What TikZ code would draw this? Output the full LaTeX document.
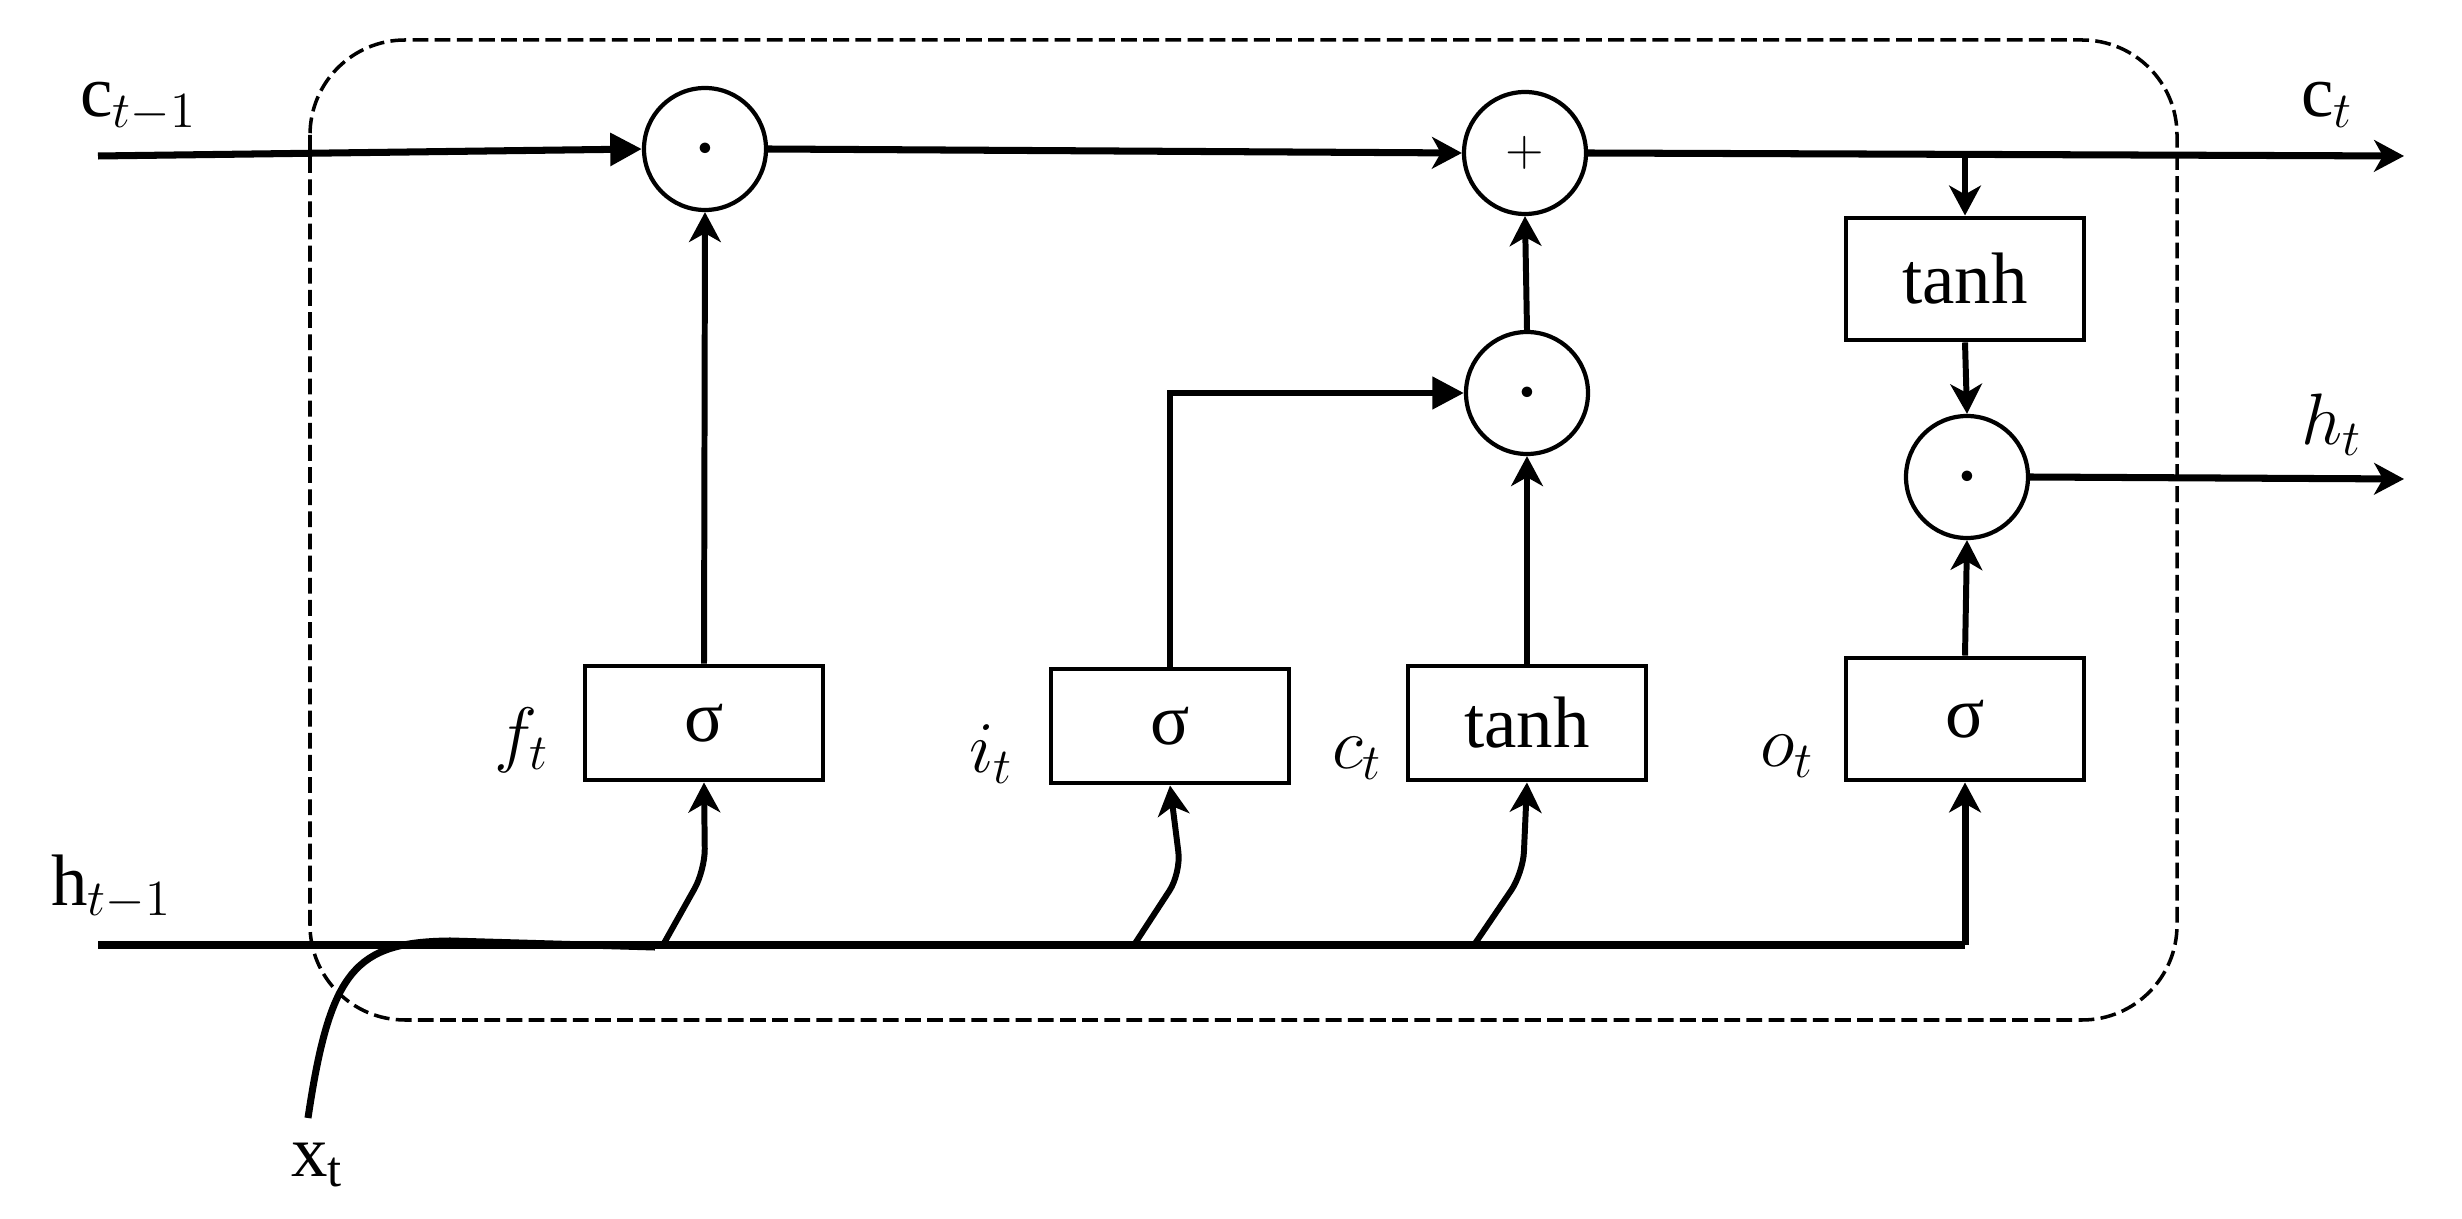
\documentclass[tikz,border=0pt]{standalone}
\usepackage{amsmath}
\usepackage{fontspec}
\setmainfont{Liberation Serif}
\usetikzlibrary{arrows.meta}

\begin{document}
\begin{tikzpicture}[font = \huge,
        gatebox/.style = {draw, line width = 1.4pt, minimum width = 2.38cm, minimum height = 1.14cm, inner sep = 0pt},
        opnode/.style = {draw, circle, line width = 1.2pt, minimum size = 1.22cm, inner sep = 0pt, font = \Large},
        mainline/.style = {line width = 2pt},
        fill arrow/.style = {mainline, -{Triangle[length = 9pt, width = 9pt]}},
        barb arrow/.style = {line width = 1.7pt, -{Stealth[length = 8.5pt, width = 9pt, inset = 2.5pt]}},
        cellbox/.style = {line width = 1pt, dash pattern = on 4.5pt off 1.8pt, rounded corners = 0.95cm}]
        \useasboundingbox (0,0) rectangle (24.62,-12.19);

        % cell border
        \draw[cellbox] (3.10,-0.40) rectangle (21.77,-10.20);

        % operations
        \node[opnode] (fmul) at (7.05,-1.49) {\scriptsize$\bullet$};
        \node[opnode] (cadd) at (15.25,-1.53) {$+$};
        \node[opnode] (imul) at (15.27,-3.93) {\scriptsize$\bullet$};
        \node[opnode] (omul) at (19.67,-4.77) {\scriptsize$\bullet$};

        % gates
        \node[gatebox] (fgate) at (7.04,-7.23) {σ};
        \node[gatebox] (igate) at (11.70,-7.26) {σ};
        \node[gatebox] (cgate) at (15.27,-7.23) {tanh};
        \node[gatebox, minimum height = 1.22cm] (ogate) at (19.65,-7.19) {σ};
        \node[gatebox, minimum height = 1.22cm] (tgate) at (19.65,-2.79) {tanh};

        \node[anchor = east] (flab) at (5.62,-7.40) {$f_t$};
        \node[anchor = east] (ilab) at (10.26,-7.54) {$i_t$};
        \node[anchor = east] (clab) at (13.95,-7.58) {$c_t$};
        \node[anchor = east] (olab) at (18.27,-7.56) {$o_t$};

        % ends
        \coordinate (cin) at (0.98,-1.56);
        \coordinate (hin) at (0.98,-9.45);
        \coordinate (xin) at (3.08,-11.18);
        \coordinate (cout) at (24.04,-1.56);
        \coordinate (hout) at (24.04,-4.79);
        \coordinate (tap) at (19.65,-1.55);
        \coordinate (hend) at (19.65,-9.45);
        \coordinate (fb) at (6.63,-9.45);
        \coordinate (ib) at (11.34,-9.45);
        \coordinate (cb) at (14.74,-9.45);

        \node[anchor = base west] (cinlab) at (0.68,-1.17) {c$_{t-1}$};
        \node[anchor = base west] (hinlab) at (0.39,-9.05) {h$_{t-1}$};
        \node[anchor = base west] (xinlab) at (2.79,-11.76) {x$_\text{t}$};
        \node[anchor = base west] (coutlab) at (22.89,-1.17) {c$_t$};
        \node[anchor = base west] (houtlab) at (22.89,-4.45) {$h_t$};

        % cell state
        \draw[fill arrow] (cin) -- (fmul.west);
        \draw[barb arrow, line width = 2pt] (fmul.east) -- (cadd.west);
        \draw[barb arrow, line width = 2pt] (cadd.east) -- (cout);
        \draw[barb arrow] (tap) -- (tgate.north);
        \draw[barb arrow] (tgate.south) -- (omul.north);
        \draw[barb arrow, line width = 2pt] (omul.east) -- (hout);

        % hidden state and input
        \draw[mainline] (hin) -- (hend);
        \draw[barb arrow, line width = 2pt] (hend) -- (ogate.south);
        \draw[mainline] (xin) .. controls (3.30,-9.70) and (3.55,-9.42) .. (4.50,-9.41) -- (6.55,-9.47);
        \draw[barb arrow, rounded corners = 6pt] (fb) -- (7.05,-8.70) -- (fgate.south);
        \draw[barb arrow, rounded corners = 6pt] (ib) -- (11.81,-8.73) -- (igate.south);
        \draw[barb arrow, rounded corners = 6pt] (cb) -- (15.23,-8.73) -- (cgate.south);

        % gates to operations
        \draw[barb arrow] (fgate.north) -- (fmul.south);
        \draw[fill arrow, line width = 1.7pt] (igate.north) |- (imul.west);
        \draw[barb arrow] (cgate.north) -- (imul.south);
        \draw[barb arrow] (imul.north) -- (cadd.south);
        \draw[barb arrow] (ogate.north) -- (omul.south);
    \end{tikzpicture}
\end{document}
